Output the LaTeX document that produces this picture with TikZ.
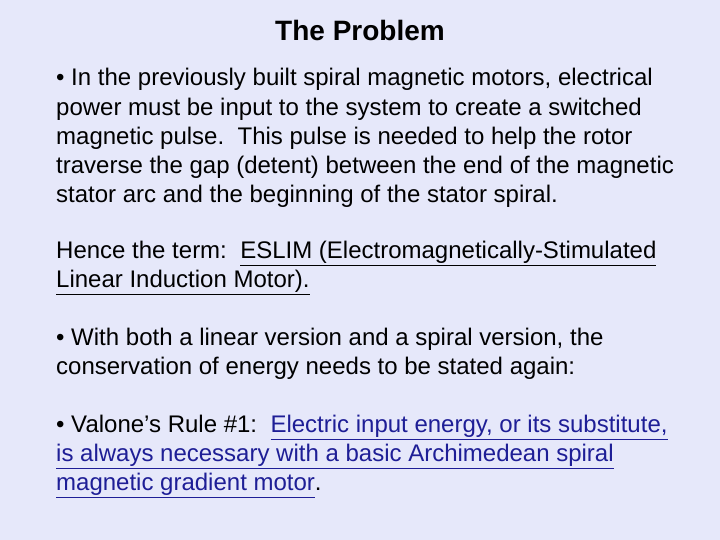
\documentclass[tikz,border=0pt]{standalone}
\usepackage{fontspec}
\setmainfont{Liberation Sans}
\definecolor{bg}{RGB}{230,232,250}
\definecolor{link}{RGB}{30,30,150}
\newcommand{\myul}[1]{\underline{#1}}
\newcommand{\lnk}[1]{{\color{link}\underline{#1}}}
\begin{document}
\begin{tikzpicture}[x=1pt,y=1pt,
  ln/.style={anchor=base west,inner sep=0pt,font=\fontsize{24}{28}\selectfont}]
\fill[bg] (0,0) rectangle (720,540);
\useasboundingbox (0,0) rectangle (720,540);
\node[anchor=base,inner sep=0pt,font=\fontsize{28}{32}\bfseries] (t) at (360,499) {The Problem};
\node[ln] (a1) at (56,454) {• In the previously built spiral magnetic motors, electrical};
\node[ln] (a2) at (56,424) {power must be input to the system to create a switched};
\node[ln] (a3) at (56,395) {magnetic pulse.\ \ This pulse is needed to help the rotor};
\node[ln] (a4) at (56,366) {traverse the gap (detent) between the end of the magnetic};
\node[ln] (a5) at (56,337) {stator arc and the beginning of the stator spiral.};
\node[ln] (b1) at (56,281) {Hence the term:\ \ \myul{ESLIM (Electromagnetically-Stimulated}};
\node[ln] (b2) at (56,252) {\myul{Linear Induction Motor).}};
\node[ln] (c1) at (56,194) {• With both a linear version and a spiral version, the};
\node[ln] (c2) at (56,165) {conservation of energy needs to be stated again:};
\node[ln] (d1) at (56,107) {• Valone’s Rule \#1:\ \ \lnk{Electric input energy, or its substitute,}};
\node[ln] (d2) at (56,78) {\lnk{is always necessary with a basic Archimedean spiral}};
\node[ln] (d3) at (56,49) {\lnk{magnetic gradient motor}.};
\end{tikzpicture}
\end{document}
